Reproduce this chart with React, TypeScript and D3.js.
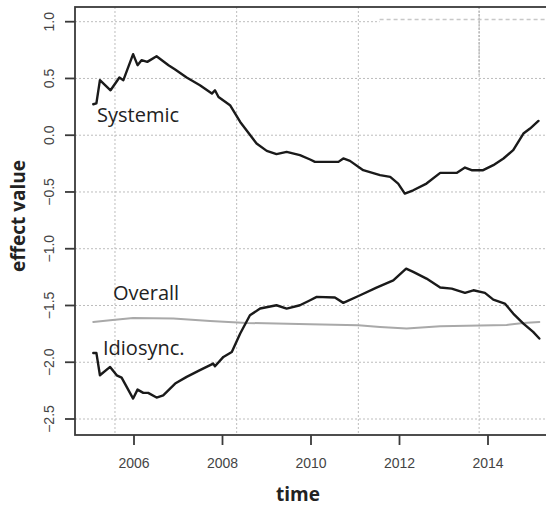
import React from "react";
import * as d3 from "d3";

// Systemic effect over time
const systemicTime = [2005.08, 2005.15, 2005.23, 2005.47, 2005.67, 2005.76, 2005.98, 2006.08, 2006.17, 2006.30, 2006.51, 2006.78, 2006.93, 2007.19, 2007.49, 2007.76, 2007.83, 2007.91, 2008.17, 2008.40, 2008.77, 2009.00, 2009.22, 2009.45, 2009.75, 2009.98, 2010.09, 2010.62, 2010.73, 2010.88, 2011.18, 2011.56, 2011.79, 2011.97, 2012.12, 2012.31, 2012.61, 2012.92, 2013.29, 2013.48, 2013.63, 2013.89, 2014.12, 2014.35, 2014.57, 2014.80, 2014.95, 2015.14];
const systemicValue = [0.273, 0.28, 0.485, 0.396, 0.508, 0.485, 0.714, 0.617, 0.661, 0.646, 0.696, 0.617, 0.579, 0.508, 0.44, 0.367, 0.396, 0.337, 0.264, 0.117, -0.073, -0.138, -0.167, -0.147, -0.176, -0.214, -0.235, -0.235, -0.205, -0.226, -0.308, -0.352, -0.367, -0.426, -0.514, -0.485, -0.426, -0.332, -0.332, -0.285, -0.308, -0.308, -0.264, -0.205, -0.132, 0.015, 0.059, 0.126];

// Idiosyncratic effect over time
const idioTime = [2005.08, 2005.15, 2005.23, 2005.46, 2005.61, 2005.72, 2005.98, 2006.08, 2006.21, 2006.32, 2006.51, 2006.66, 2006.93, 2007.19, 2007.49, 2007.79, 2007.83, 2008.02, 2008.21, 2008.40, 2008.62, 2008.85, 2009.22, 2009.45, 2009.75, 2009.98, 2010.13, 2010.54, 2010.73, 2011.11, 2011.48, 2011.86, 2012.15, 2012.31, 2012.61, 2012.92, 2013.18, 2013.48, 2013.67, 2013.93, 2014.12, 2014.38, 2014.57, 2014.80, 2015.02, 2015.16];
const idioValue = [-1.918, -1.918, -2.115, -2.041, -2.115, -2.135, -2.32, -2.241, -2.27, -2.27, -2.311, -2.291, -2.188, -2.129, -2.07, -2.012, -2.035, -1.953, -1.909, -1.747, -1.586, -1.527, -1.498, -1.527, -1.498, -1.454, -1.424, -1.43, -1.477, -1.41, -1.342, -1.278, -1.175, -1.204, -1.263, -1.342, -1.351, -1.389, -1.366, -1.389, -1.448, -1.483, -1.571, -1.659, -1.733, -1.791];

// Overall effect over time
const overallTime = [2005.08, 2005.46, 2005.98, 2006.89, 2007.72, 2008.55, 2009.98, 2011.07, 2011.56, 2012.16, 2012.92, 2013.82, 2014.42, 2014.80, 2015.16];
const overallValue = [-1.645, -1.63, -1.61, -1.615, -1.636, -1.654, -1.665, -1.674, -1.689, -1.703, -1.683, -1.677, -1.671, -1.654, -1.645];

const xTicks = [2006, 2008, 2010, 2012, 2014];
const yTicks = [1.0, 0.5, 0.0, -0.5, -1.0, -1.5, -2.0, -2.5];
const xGrid = [2005.57, 2008.32, 2011.07, 2013.8];

const W = 546;
const H = 506;
const plotLeft = 75;
const plotTop = 7;
const plotBottom = 435;
const plotRight = 560;

const x = d3.scaleLinear().domain([2006, 2014]).range([134, 488]);
const y = d3.scaleLinear().domain([-2.5, 1.0]).range([419, 21.7]);

const zip = (ts: number[], vs: number[]) => ts.map((t, i) => [t, vs[i]] as [number, number]);

const line = d3
  .line<[number, number]>()
  .x((d) => x(d[0]))
  .y((d) => y(d[1]));

const tickFont = "'Liberation Sans', Arial, sans-serif";
const textFont = "'Open Sans', 'Noto Sans', sans-serif";

export default function App() {
  return (
    <svg
      width={W}
      height={H}
      style={{ position: "absolute", left: 0, top: 0, background: "#fff" }}
    >
      <defs>
        <clipPath id="plotClip">
          <rect x={plotLeft} y={plotTop} width={W - plotLeft} height={plotBottom - plotTop} />
        </clipPath>
      </defs>

      {/* grid */}
      <g stroke="#bdbdbd" strokeWidth={1} strokeDasharray="2,2" fill="none">
        {yTicks.map((v) => (
          <line key={"gy" + v} x1={plotLeft} x2={v === 1.0 ? x(2011.55) : W} y1={y(v)} y2={y(v)} />
        ))}
        {xGrid.map((t) => (
          <line key={"gx" + t} x1={x(t)} x2={x(t)} y1={plotTop} y2={plotBottom} />
        ))}
      </g>
      <line
        x1={x(2011.55)}
        x2={W}
        y1={y(1.02)}
        y2={y(1.02)}
        stroke="#c8c8c8"
        strokeWidth={1.6}
        strokeDasharray="4,3"
      />
      <line
        x1={x(2013.8)}
        x2={x(2013.8)}
        y1={plotTop}
        y2={y(0.53)}
        stroke="#bdbdbd"
        strokeWidth={1.6}
        strokeDasharray="2,1.5"
      />

      {/* series */}
      <g clipPath="url(#plotClip)" fill="none" strokeLinejoin="round" strokeLinecap="round">
        <path d={line(zip(overallTime, overallValue)) || ""} stroke="#a9a9a9" strokeWidth={2} />
        <path d={line(zip(systemicTime, systemicValue)) || ""} stroke="#1a1a1a" strokeWidth={2.4} />
        <path d={line(zip(idioTime, idioValue)) || ""} stroke="#1a1a1a" strokeWidth={2.4} />
      </g>

      {/* plot box */}
      <rect
        x={plotLeft}
        y={plotTop}
        width={plotRight - plotLeft}
        height={plotBottom - plotTop}
        fill="none"
        stroke="#3a3a3a"
        strokeWidth={1.8}
      />

      {/* y axis */}
      <g>
        {yTicks.map((v) => (
          <g key={"ty" + v}>
            <line x1={65} x2={plotLeft} y1={y(v)} y2={y(v)} stroke="#3a3a3a" strokeWidth={1.8} />
            <text
              transform={`translate(54,${y(v)}) rotate(-90)`}
              textAnchor="middle"
              fontFamily={tickFont}
              fontSize={14}
              fill="#444"
            >
              {d3.format(".1f")(v)}
            </text>
          </g>
        ))}
      </g>

      {/* x axis */}
      <g>
        {xTicks.map((t) => (
          <g key={"tx" + t}>
            <line x1={x(t)} x2={x(t)} y1={plotBottom} y2={445} stroke="#3a3a3a" strokeWidth={1.8} />
            <text x={x(t)} y={468} textAnchor="middle" fontFamily={tickFont} fontSize={14} fill="#444">
              {t}
            </text>
          </g>
        ))}
      </g>

      {/* axis titles */}
      <text
        x={298}
        y={501}
        textAnchor="middle"
        fontFamily={textFont}
        fontWeight="bold"
        fontSize={19}
        fill="#222"
      >
        time
      </text>
      <text
        transform={`translate(25,216) rotate(-90)`}
        textAnchor="middle"
        fontFamily={textFont}
        fontWeight="bold"
        fontSize={19}
        fill="#222"
      >
        effect value
      </text>

      {/* series labels */}
      <g fontFamily={textFont} fontSize={20} fill="#222">
        <text x={97} y={122}>Systemic</text>
        <text x={113} y={300}>Overall</text>
        <text x={103} y={355}>Idiosync.</text>
      </g>
    </svg>
  );
}
